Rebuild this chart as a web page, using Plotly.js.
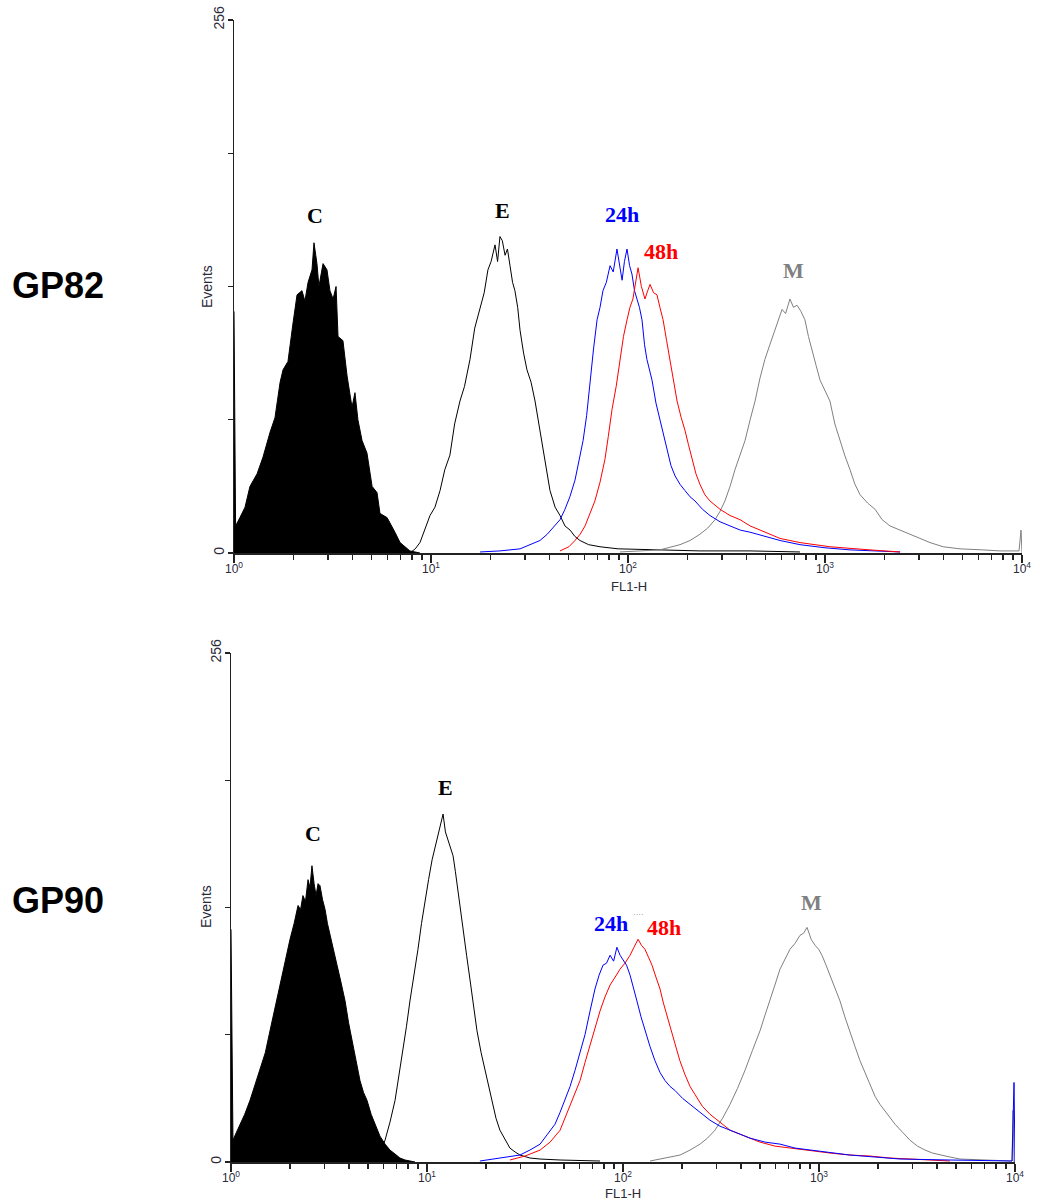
<!DOCTYPE html>
<html>
<head>
<meta charset="utf-8">
<script src="https://cdn.plot.ly/plotly-3.0.1.min.js"></script>
<style>
  html, body { margin: 0; padding: 0; background: #ffffff; }
  #chart { width: 1040px; height: 1201px; }
</style>
</head>
<body>
<div id="chart"></div>
<script>
// ---------- DATA (log10 of FL1-H channel, event counts) ----------
// GP82 panel
const gp82_C_exp = [0.000, 0.008, 0.030, 0.056, 0.081, 0.117, 0.147, 0.183, 0.208, 0.234, 0.249, 0.274, 0.299, 0.320, 0.345, 0.360, 0.376, 0.396, 0.406, 0.421, 0.431, 0.452, 0.472, 0.487, 0.503, 0.518, 0.528, 0.553, 0.574, 0.599, 0.614, 0.629, 0.650, 0.675, 0.701, 0.726, 0.741, 0.777, 0.817, 0.843, 0.868, 0.893, 0.944];
const gp82_C_cnt = [116, 13, 17, 22, 32, 38, 46, 58, 65, 82, 88, 92, 110, 124, 126, 121, 130, 136, 149, 139, 128, 139, 136, 126, 122, 128, 104, 102, 85, 70, 77, 64, 54, 48, 32, 29, 19, 17, 10, 5, 3, 1, 0];

const gp82_E_exp = [0.893, 0.920, 0.944, 0.970, 0.995, 1.020, 1.046, 1.070, 1.096, 1.120, 1.147, 1.170, 1.198, 1.222, 1.249, 1.270, 1.289, 1.305, 1.325, 1.338, 1.350, 1.362, 1.376, 1.388, 1.401, 1.414, 1.426, 1.440, 1.452, 1.470, 1.487, 1.508, 1.528, 1.540, 1.553, 1.566, 1.579, 1.592, 1.604, 1.630, 1.655, 1.680, 1.706, 1.730, 1.756, 1.800, 1.858, 1.950, 2.112, 2.365, 2.619, 2.873];
const gp82_E_cnt = [0, 2, 5, 12, 18, 22, 30, 40, 47, 62, 73, 80, 93, 108, 117, 125, 136, 140, 148, 140, 152, 150, 143, 146, 138, 130, 126, 118, 107, 96, 88, 82, 73, 66, 59, 52, 45, 36, 30, 22, 18, 13, 11, 8, 6, 4, 3, 2, 1.5, 1, 1, 0.5];

const gp82_24_exp = [1.249, 1.350, 1.452, 1.500, 1.553, 1.590, 1.629, 1.655, 1.680, 1.705, 1.731, 1.752, 1.772, 1.790, 1.807, 1.825, 1.843, 1.858, 1.873, 1.890, 1.909, 1.925, 1.944, 1.957, 1.970, 1.982, 1.995, 2.008, 2.020, 2.033, 2.046, 2.058, 2.071, 2.084, 2.096, 2.110, 2.122, 2.142, 2.162, 2.180, 2.198, 2.218, 2.239, 2.264, 2.289, 2.315, 2.340, 2.378, 2.416, 2.467, 2.518, 2.570, 2.619, 2.700, 2.772, 2.873, 3.000, 3.127, 3.381];
const gp82_24_cnt = [0.5, 1, 2, 4, 6, 9, 13, 16, 21, 27, 35, 45, 54, 66, 83, 98, 112, 118, 126, 130, 138, 135, 146, 138, 131, 140, 146, 138, 134, 126, 122, 118, 112, 100, 93, 88, 83, 72, 64, 56, 49, 42, 37, 33, 30, 27, 25, 21, 18, 15, 13, 11, 10, 8, 6, 4, 2.5, 1.5, 0.5];

const gp82_48_exp = [1.655, 1.700, 1.731, 1.757, 1.782, 1.807, 1.832, 1.858, 1.883, 1.900, 1.919, 1.940, 1.959, 1.977, 1.995, 2.010, 2.025, 2.038, 2.051, 2.068, 2.086, 2.100, 2.112, 2.130, 2.147, 2.162, 2.178, 2.196, 2.213, 2.230, 2.249, 2.270, 2.289, 2.307, 2.325, 2.345, 2.365, 2.390, 2.416, 2.440, 2.467, 2.518, 2.569, 2.620, 2.670, 2.720, 2.772, 2.873, 3.025, 3.228, 3.381];
const gp82_48_cnt = [1, 3, 6, 9, 13, 19, 25, 34, 45, 56, 69, 80, 93, 104, 112, 118, 122, 130, 137, 128, 122, 126, 129, 125, 124, 118, 112, 102, 93, 82, 73, 65, 59, 52, 45, 38, 33, 28, 25, 23, 21, 18, 16, 13, 11, 9, 7, 5, 3, 1.5, 0.5];

const gp82_M_exp = [1.959, 2.162, 2.264, 2.315, 2.365, 2.405, 2.442, 2.467, 2.492, 2.518, 2.543, 2.568, 2.594, 2.620, 2.645, 2.670, 2.695, 2.720, 2.746, 2.764, 2.782, 2.800, 2.822, 2.840, 2.858, 2.878, 2.898, 2.916, 2.934, 2.955, 2.975, 3.000, 3.025, 3.050, 3.076, 3.100, 3.127, 3.152, 3.178, 3.216, 3.254, 3.290, 3.330, 3.380, 3.431, 3.480, 3.533, 3.600, 3.685, 3.800, 3.888, 3.985, 3.995, 4.000];
const gp82_M_cnt = [0.5, 1.5, 4, 6, 9, 12, 16, 20, 25, 32, 40, 47, 54, 64, 73, 84, 93, 100, 107, 112, 117, 115, 122, 118, 119, 116, 112, 104, 98, 90, 83, 78, 73, 62, 54, 47, 40, 33, 28, 24, 21, 16, 13, 11, 9, 7, 5, 3, 2, 1.5, 1, 1, 11, 0];

// GP90 panel
const gp90_C_exp = [0.000, 0.010, 0.028, 0.046, 0.070, 0.097, 0.120, 0.148, 0.175, 0.199, 0.225, 0.250, 0.275, 0.301, 0.322, 0.342, 0.355, 0.367, 0.380, 0.393, 0.403, 0.413, 0.424, 0.434, 0.444, 0.454, 0.467, 0.480, 0.492, 0.505, 0.523, 0.541, 0.562, 0.582, 0.600, 0.617, 0.638, 0.658, 0.676, 0.694, 0.715, 0.735, 0.760, 0.786, 0.811, 0.837, 0.862, 0.888, 0.939];
const gp90_C_cnt = [117, 11, 15, 19, 24, 31, 38, 46, 55, 66, 78, 89, 100, 112, 120, 129, 127, 134, 131, 142, 138, 149, 140, 134, 140, 139, 132, 127, 120, 114, 106, 99, 90, 81, 70, 61, 50, 41, 35, 31, 24, 19, 13, 9, 6, 4, 2, 1, 0];

const gp90_E_exp = [0.735, 0.760, 0.786, 0.811, 0.837, 0.858, 0.878, 0.895, 0.913, 0.934, 0.954, 0.972, 0.990, 1.008, 1.026, 1.041, 1.056, 1.069, 1.082, 1.094, 1.107, 1.120, 1.133, 1.145, 1.158, 1.171, 1.184, 1.202, 1.219, 1.237, 1.255, 1.276, 1.296, 1.314, 1.332, 1.352, 1.372, 1.398, 1.423, 1.450, 1.474, 1.525, 1.577, 1.679, 1.883];
const gp90_E_cnt = [0.5, 4, 11, 20, 31, 44, 56, 68, 81, 94, 107, 120, 132, 142, 152, 158, 164, 170, 175, 166, 162, 158, 154, 146, 137, 126, 117, 104, 92, 78, 66, 55, 46, 38, 31, 22, 16, 11, 7, 5, 3.5, 2, 1.5, 1, 0.5];

const gp90_24_exp = [1.270, 1.372, 1.474, 1.525, 1.577, 1.615, 1.653, 1.679, 1.704, 1.730, 1.755, 1.780, 1.806, 1.832, 1.857, 1.878, 1.898, 1.916, 1.934, 1.952, 1.969, 1.985, 2.000, 2.018, 2.036, 2.054, 2.071, 2.092, 2.112, 2.138, 2.163, 2.189, 2.214, 2.240, 2.265, 2.304, 2.342, 2.393, 2.444, 2.495, 2.546, 2.597, 2.648, 2.725, 2.801, 2.878, 2.954, 3.056, 3.158, 3.285, 3.413, 3.668, 3.923, 3.985, 3.995, 4.000];
const gp90_24_cnt = [0.5, 2, 3.5, 6, 9, 14, 19, 25, 31, 38, 46, 55, 64, 76, 87, 94, 99, 100, 104, 101, 108, 104, 102, 99, 94, 88, 81, 73, 66, 58, 51, 45, 41, 38, 36, 32, 29, 25, 21, 18, 16, 14, 12, 10, 9, 7, 6, 4.5, 3.5, 2.5, 1.5, 1, 0.5, 0.5, 40, 0];

const gp90_48_exp = [1.423, 1.500, 1.577, 1.628, 1.679, 1.704, 1.730, 1.755, 1.781, 1.806, 1.832, 1.858, 1.883, 1.908, 1.934, 1.960, 1.985, 2.010, 2.036, 2.056, 2.077, 2.094, 2.112, 2.130, 2.148, 2.168, 2.189, 2.206, 2.224, 2.245, 2.265, 2.290, 2.316, 2.342, 2.367, 2.405, 2.444, 2.495, 2.546, 2.622, 2.699, 2.775, 2.852, 2.954, 3.056, 3.158, 3.260, 3.362, 3.464, 3.668];
const gp90_48_cnt = [1, 3, 6, 10, 16, 22, 29, 35, 41, 50, 59, 68, 76, 83, 89, 93, 97, 100, 104, 108, 112, 109, 107, 103, 99, 93, 87, 80, 74, 66, 59, 51, 44, 38, 34, 28, 24, 20, 16, 13, 10, 8, 7, 5.5, 4.5, 3.5, 3, 2, 1.5, 0.5];

const gp90_M_exp = [2.138, 2.291, 2.342, 2.393, 2.431, 2.469, 2.508, 2.546, 2.584, 2.622, 2.660, 2.699, 2.725, 2.750, 2.775, 2.801, 2.826, 2.852, 2.878, 2.903, 2.921, 2.939, 2.960, 2.980, 2.998, 3.015, 3.036, 3.056, 3.082, 3.107, 3.132, 3.158, 3.184, 3.209, 3.235, 3.260, 3.286, 3.311, 3.350, 3.388, 3.426, 3.464, 3.502, 3.541, 3.579, 3.617, 3.668, 3.719, 3.821, 3.923, 3.985, 3.990, 3.995];
const gp90_M_cnt = [0.5, 3.5, 6, 9, 12, 16, 22, 29, 37, 46, 56, 66, 74, 81, 89, 97, 102, 107, 110, 114, 115, 118, 112, 109, 107, 104, 99, 94, 88, 81, 73, 66, 58, 51, 45, 39, 33, 29, 24, 19, 15, 11, 8, 6, 4.5, 3.5, 2.5, 1.5, 1, 0.5, 0.5, 26, 0];

// Axis tick values / labels
const yTickVals = [0, 64, 128, 192, 256];
const yTickText = ['0', '', '', '', '256'];
const xMajorVals = [1, 10, 100, 1000, 10000];
const xMajorText = ['10<sup>0</sup>', '10<sup>1</sup>', '10<sup>2</sup>', '10<sup>3</sup>', '10<sup>4</sup>'];
const xMinorVals = [2,3,4,5,6,7,8,9, 20,30,40,50,60,70,80,90, 200,300,400,500,600,700,800,900, 2000,3000,4000,5000,6000,7000,8000,9000];

// ---------- BUILD ----------
const W = 1040, H = 1201;
const px = v => v / W;
const py = v => 1 - v / H;
const toX = arr => arr.map(e => Math.pow(10, e));

function line(expArr, cnt, color, xa, ya, filled) {
  const t = {
    x: toX(expArr), y: cnt, type: 'scatter', mode: 'lines',
    line: { color: color, width: 1 }, xaxis: xa, yaxis: ya,
    hoverinfo: 'skip', showlegend: false
  };
  if (filled) { t.fill = 'tozeroy'; t.fillcolor = color; }
  return t;
}

const BLUE = '#0000ff', RED = '#ff0000', GRAY = '#808080', BLACK = '#000000';

const traces = [
  line(gp82_C_exp, gp82_C_cnt, BLACK, 'x', 'y', true),
  line(gp82_E_exp, gp82_E_cnt, BLACK, 'x', 'y'),
  line(gp82_M_exp, gp82_M_cnt, GRAY, 'x', 'y'),
  line(gp82_24_exp, gp82_24_cnt, BLUE, 'x', 'y'),
  line(gp82_48_exp, gp82_48_cnt, RED, 'x', 'y'),
  line(gp90_C_exp, gp90_C_cnt, BLACK, 'x2', 'y2', true),
  line(gp90_E_exp, gp90_E_cnt, BLACK, 'x2', 'y2'),
  line(gp90_M_exp, gp90_M_cnt, GRAY, 'x2', 'y2'),
  line(gp90_48_exp, gp90_48_cnt, RED, 'x2', 'y2'),
  line(gp90_24_exp, gp90_24_cnt, BLUE, 'x2', 'y2')
];

const AXC = '#222222';
const tickFontX = { family: 'Liberation Sans, Arial, sans-serif', size: 12, color: '#2a2a3a' };
const tickFontY = { family: 'Liberation Sans, Arial, sans-serif', size: 14, color: '#2a2a3a' };

function xAxis(domain, anchor) {
  return {
    type: 'log', range: [0, 4], domain: domain, anchor: anchor,
    showline: true, linecolor: AXC, linewidth: 1.5, mirror: false,
    showgrid: false, zeroline: false,
    ticks: 'outside', ticklen: 8, tickwidth: 1.2, tickcolor: AXC,
    tickmode: 'array', tickvals: xMajorVals, ticktext: xMajorText,
    tickfont: tickFontX, ticklabelstandoff: -4,
    minor: { tickmode: 'array', tickvals: xMinorVals, ticks: 'outside', ticklen: 5, tickwidth: 1.2, tickcolor: AXC, showgrid: false },
    fixedrange: true
  };
}
function yAxis(domain, anchor) {
  return {
    range: [0, 256], domain: domain, anchor: anchor,
    showline: true, linecolor: AXC, linewidth: 1.5, mirror: false,
    showgrid: false, zeroline: false,
    ticks: 'outside', ticklen: 5, tickwidth: 1.2, tickcolor: AXC,
    tickmode: 'array', tickvals: yTickVals, ticktext: yTickText,
    tickangle: -90, tickfont: tickFontY, ticklabelstandoff: -2,
    fixedrange: true
  };
}

const serif = 'Liberation Serif, Times New Roman, serif';
const sansAx = 'Liberation Sans, Arial, sans-serif';
function lab(text, x, y, color, size, family, angle) {
  return {
    text: text, x: px(x), y: py(y), xref: 'paper', yref: 'paper',
    showarrow: false, xanchor: 'center', yanchor: 'middle',
    textangle: angle || 0,
    font: { family: family || serif, size: size || 22, color: color }
  };
}

const annotations = [
  // panel names
  lab('<b>GP82</b>', 58, 285, '#000000', 36, sansAx),
  lab('<b>GP90</b>', 58, 900, '#000000', 36, sansAx),
  // axis titles
  lab('Events', 207, 287, '#2a2a3a', 14, sansAx, -90),
  lab('Events', 206, 907, '#2a2a3a', 14, sansAx, -90),
  lab('FL1-H', 629, 586, '#2a2a3a', 13, sansAx),
  lab('FL1-H', 623, 1193, '#2a2a3a', 13, sansAx),
  // curve labels top
  lab('<b>C</b>', 315, 215, BLACK),
  lab('<b>E</b>', 502, 210, BLACK),
  lab('<b>24h</b>', 622, 214, BLUE),
  lab('<b>48h</b>', 661, 252, RED),
  lab('<b>M</b>', 793, 270, GRAY),
  // curve labels bottom
  lab('<b>C</b>', 313, 833, BLACK),
  lab('<b>E</b>', 445, 787, BLACK),
  lab('<b>24h</b>', 611, 924, BLUE),
  lab('<b>48h</b>', 664, 927, RED),
  lab('<b>M</b>', 811, 902, GRAY),
  lab('····', 638, 914, GRAY, 8, sansAx)
];

const layout = {
  width: W, height: H,
  margin: { l: 0, r: 0, t: 0, b: 0 },
  paper_bgcolor: '#ffffff', plot_bgcolor: '#ffffff',
  showlegend: false,
  xaxis: xAxis([234 / W, 1022 / W], 'y'),
  yaxis: yAxis([1 - 553 / H, 1 - 20 / H], 'x'),
  xaxis2: xAxis([231 / W, 1015 / W], 'y2'),
  yaxis2: yAxis([1 - 1162 / H, 1 - 653 / H], 'x2'),
  annotations: annotations
};

Plotly.newPlot('chart', traces, layout, { displayModeBar: false, staticPlot: true });
</script>
</body>
</html>
